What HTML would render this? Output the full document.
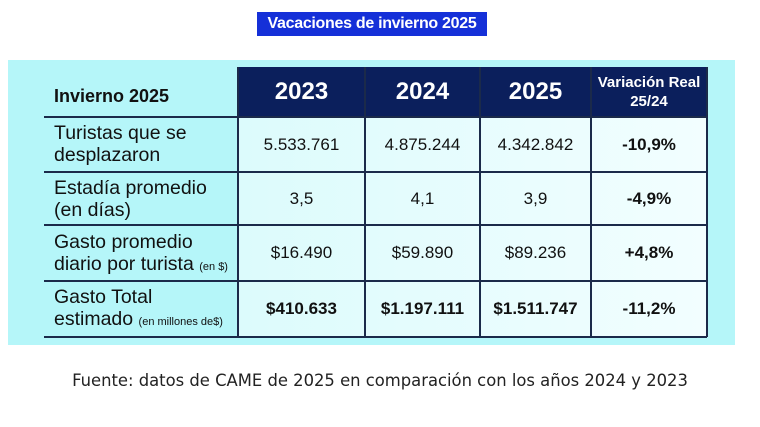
<!DOCTYPE html><html><head><meta charset="utf-8"><style>
body{margin:0;width:760px;height:427px;background:#fff;position:relative;overflow:hidden;font-family:"Liberation Sans",sans-serif}
.a{position:absolute}
#t{left:257px;top:12px;width:230px;height:24px;background:#1530d8;color:#fff;font-weight:bold;font-size:16px;line-height:24px;text-align:center;letter-spacing:-0.3px}
#p{left:8px;top:60px;width:727px;height:285px;background:#b5f6f9}
#bg{left:238px;top:117px;width:469px;height:220px;background:linear-gradient(90deg,#dcfbfc,#f2feff)}
.h{top:67px;height:50px;background:#0b1f5c;color:#fff;font-weight:bold;display:flex;align-items:center;justify-content:center;text-align:center;font-size:24px}
.vl{width:2px;background:#1b2a4a;top:67px;height:270px}
.hl{left:44px;width:663px;height:2px;background:#1b2a4a}
.c{display:flex;align-items:center;justify-content:center;font-size:17px;color:#111}
.l{left:54px;font-size:19.5px;line-height:22px;color:#111}
.b{font-weight:bold}
small{font-size:11px}
</style></head><body>
<div class="a" id="t">Vacaciones de invierno 2025</div>
<div class="a" id="p"></div>
<div class="a" id="bg"></div>
<div class="a h" style="left:238px;width:127px">2023</div>
<div class="a h" style="left:365px;width:115px">2024</div>
<div class="a h" style="left:480px;width:111px">2025</div>
<div class="a h" style="left:591px;width:116px;font-size:15px;line-height:19px">Variación Real<br>25/24</div>
<div class="a l b" style="top:85px;font-size:18px">Invierno 2025</div>
<div class="a vl" style="left:237px"></div><div class="a vl" style="left:364px"></div><div class="a vl" style="left:479px"></div><div class="a vl" style="left:590px"></div><div class="a vl" style="left:706px"></div>
<div class="a hl" style="top:116px"></div><div class="a hl" style="top:171px"></div><div class="a hl" style="top:224px"></div><div class="a hl" style="top:280px"></div><div class="a hl" style="top:336px"></div>
<div class="a l" style="top:122px">Turistas que se<br>desplazaron</div>
<div class="a l" style="top:177px">Estadía promedio<br>(en días)</div>
<div class="a l" style="top:231px">Gasto promedio<br>diario por turista <small>(en $)</small></div>
<div class="a l" style="top:286px">Gasto Total<br>estimado <small>(en millones de$)</small></div>
<div class="a c" style="left:238px;width:127px;top:117px;height:55px">5.533.761</div>
<div class="a c" style="left:365px;width:115px;top:117px;height:55px">4.875.244</div>
<div class="a c" style="left:480px;width:111px;top:117px;height:55px">4.342.842</div>
<div class="a c b" style="left:591px;width:116px;top:117px;height:55px">-10,9%</div>
<div class="a c" style="left:238px;width:127px;top:172px;height:53px">3,5</div>
<div class="a c" style="left:365px;width:115px;top:172px;height:53px">4,1</div>
<div class="a c" style="left:480px;width:111px;top:172px;height:53px">3,9</div>
<div class="a c b" style="left:591px;width:116px;top:172px;height:53px">-4,9%</div>
<div class="a c" style="left:238px;width:127px;top:225px;height:56px">$16.490</div>
<div class="a c" style="left:365px;width:115px;top:225px;height:56px">$59.890</div>
<div class="a c" style="left:480px;width:111px;top:225px;height:56px">$89.236</div>
<div class="a c b" style="left:591px;width:116px;top:225px;height:56px">+4,8%</div>
<div class="a c b" style="left:238px;width:127px;top:281px;height:56px">$410.633</div>
<div class="a c b" style="left:365px;width:115px;top:281px;height:56px">$1.197.111</div>
<div class="a c b" style="left:480px;width:111px;top:281px;height:56px">$1.511.747</div>
<div class="a c b" style="left:591px;width:116px;top:281px;height:56px">-11,2%</div>
<div class="a" style="left:0;width:760px;top:371px;text-align:center;font-family:'DejaVu Sans',sans-serif;font-size:16.4px;color:#222">Fuente: datos de CAME de 2025 en comparación con los años 2024 y 2023</div>
</body></html>
